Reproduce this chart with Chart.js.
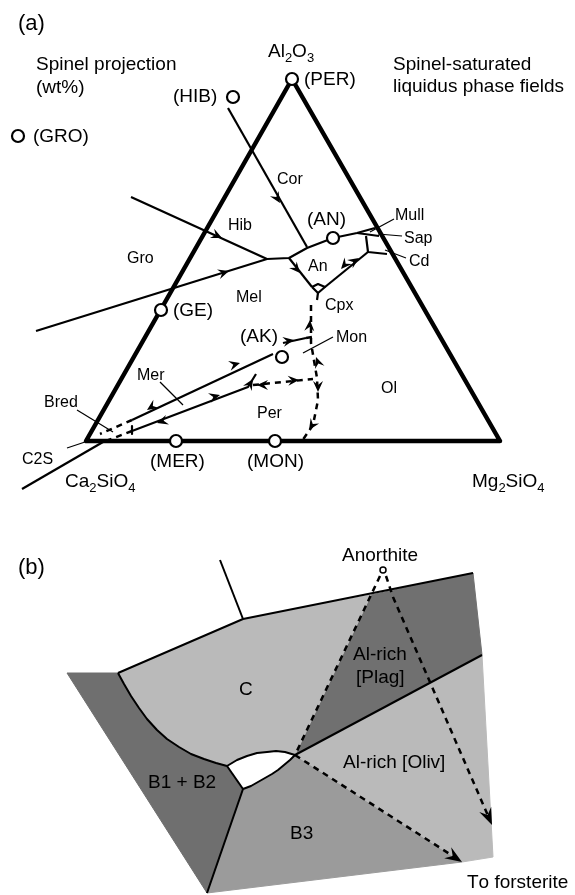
<!DOCTYPE html>
<html>
<head>
<meta charset="utf-8">
<script src="https://cdn.jsdelivr.net/npm/chart.js@4.4.0/dist/chart.umd.min.js"></script>
<style>
  html, body { margin: 0; padding: 0; background: #fff; }
  #wrap { width: 575px; height: 895px; position: relative; }
</style>
</head>
<body>
<div id="wrap"><canvas id="phaseChart"></canvas></div>
<script>
// ---- panel (a): spinel projection, values in figure units (x right, y down) ----
const triangleEdge = [[292,79],[86,441],[500,441],[292,79]];
const cotecticLines = [
  [[228,108],[307,247]],
  [[131,197],[267,259]],
  [[36,331],[267,259]],
  [[267,259],[289,258],[307,248],[333,238],[357,233],[375,228]],
  [[357,233],[379,236]],
  [[366,236],[368,252],[387,254]],
  [[289,258],[312,287]],
  [[312,287],[318,284],[325,287],[318,293],[312,287]],
  [[318,293],[317,300]],
  [[325,287],[368,252]],
  [[132,420],[273,354]],
  [[132,431],[248,387],[256,374]],
  [[132,426],[132,434]],
  [[283,343],[306,338]],
  [[22,489],[103,442]]
];
const dashedLines = [
  [[311,305],[311,343],[317,378],[318,400],[313,425],[302,441]],
  [[253,385],[313,379]],
  [[306,338],[312,337]],
  [[132,420],[100,434]],
  [[132,431],[106,441]]
];
const leaderLines = [
  [[370,232],[394,219]],
  [[378,234],[402,236]],
  [[385,250],[406,258]],
  [[303,353],[333,337]],
  [[160,382],[183,405]],
  [[77,410],[113,432]],
  [[67,448],[85,442]]
];
const compositions = [[292,79],[233,97],[18,136],[161,310],[333,238],[282,357],[176,441],[275,441]];
// arrow: position, then the point it heads toward
const arrowsA = [
  [280,203,307,247],
  [222,238,267,259],
  [229,271,267,259],
  [300,273,312,287],
  [341,269,325,287],
  [359,258,368,252],
  [240,363,273,354],
  [147,410,132,420],
  [220,395,248,387],
  [157,423,132,431],
  [253,379,256,374],
  [294,340,306,338],
  [310,320,311,305],
  [316,357,311,343],
  [318,392,318,400],
  [309,430,302,441],
  [257,385,253,385],
  [299,380,313,379]
];

// ---- panel (b): phase regions ----
const curveCB = [[118,673],[124,684],[131,696],[139,708],[147,719],[157,730],[167,739],[179,747],[191,754],[204,759],[216,763],[227,766]];
const lensTop = [[227,766],[237,760],[247,756],[257,753],[267,752],[276,751],[285,752],[295,755]];
const lensBottom = [[243,789],[251,786],[258,782],[265,778],[272,774],[278,770],[284,765],[290,760],[295,755]];
const regionB12 = [[67,673]].concat(curveCB, [[243,789],[207,893]]);
const regionC = [[118,673],[243,619],[371,595],[295,755]].concat(lensTop.slice().reverse().slice(1), curveCB.slice().reverse().slice(1));
const regionPlag = [[371,595],[473,573],[482,655],[295,755]];
const regionOliv = [[295,755],[482,655],[493,857],[462,862]];
const regionB3 = lensBottom.concat([[462,862],[207,893]]);
const regionLens = lensTop.concat(lensBottom.slice().reverse());
const boundaryLinesB = [
  [[220,560],[243,619]],
  [[118,673],[243,619],[473,573]],
  curveCB,
  lensTop,
  lensBottom,
  [[227,766],[243,789]],
  [[243,789],[207,893]],
  [[295,755],[482,655]]
];
const dashedLinesB = [
  [[380,576],[371,595],[295,755]],
  [[386,576],[393,597],[489,818]],
  [[295,755],[456,858]]
];
const anorthitePoint = [[383,570]];
// arrowhead tip, then the point it comes from
const arrowsB = [
  [492,825,393,597],
  [462,862,295,755]
];

// ---- labels: text, left x, baseline y, size ----
const labels = [
  ['(a)',18,30,22], ['Spinel projection',36,70,19], ['(wt%)',36,93,19],
  ['(GRO)',33,142,19], ['(HIB)',173,102,19], ['Al_2O_3',268,57,19],
  ['(PER)',304,85,19], ['Spinel-saturated',393,70,19], ['liquidus phase fields',393,92,19],
  ['Cor',277,184,16], ['Hib',228,230,16], ['(AN)',307,225,19],
  ['Mull',395,220,16], ['Sap',404,243,16], ['Cd',409,266,16],
  ['Gro',127,263,16], ['An',308,271,16], ['Mel',236,302,16],
  ['Cpx',325,310,16], ['(GE)',173,316,19], ['(AK)',240,342,19],
  ['Mon',336,342,16], ['Ol',381,393,16], ['Mer',137,380,16],
  ['Bred',44,407,16], ['Per',257,418,16], ['C2S',22,464,16],
  ['(MER)',150,467,19], ['(MON)',247,467,19],
  ['Ca_2SiO_4',65,487,19], ['Mg_2SiO_4',472,487,19],
  ['(b)',18,574,22], ['Anorthite',342,561,19], ['C',239,695,19],
  ['Al-rich',353,660,19], ['[Plag]',356,683,19], ['Al-rich [Oliv]',343,768,19],
  ['B1 + B2',148,788,19], ['B3',290,839,19], ['To forsterite',467,888,19]
];

const FONT = '"Liberation Sans", Arial, Helvetica, sans-serif';

function toXY(points) {
  return points.map(function (p) { return { x: p[0], y: p[1] }; });
}

function lineSet(points, width, dash) {
  return {
    data: toXY(points),
    showLine: true,
    borderColor: '#000',
    borderWidth: width,
    borderDash: dash || [],
    borderJoinStyle: 'round',
    pointRadius: 0,
    fill: false,
    tension: 0,
    order: 2
  };
}

function regionSet(points, color) {
  return {
    data: toXY(points.concat([points[0]])),
    showLine: true,
    borderColor: color,
    borderWidth: 1,
    backgroundColor: color,
    pointRadius: 0,
    fill: 'shape',
    tension: 0,
    order: 10
  };
}

const datasets = [];
datasets.push(regionSet(regionB12, '#6f6f6f'));
datasets.push(regionSet(regionC, '#bababa'));
datasets.push(regionSet(regionPlag, '#707070'));
datasets.push(regionSet(regionOliv, '#bababa'));
datasets.push(regionSet(regionB3, '#9b9b9b'));
datasets.push(regionSet(regionLens, '#ffffff'));

datasets.push(lineSet(triangleEdge, 4.5));
cotecticLines.forEach(function (l) { datasets.push(lineSet(l, 2.2)); });
dashedLines.forEach(function (l) { datasets.push(lineSet(l, 2.5, [6, 5])); });
leaderLines.forEach(function (l) { datasets.push(lineSet(l, 1.2)); });
boundaryLinesB.forEach(function (l) { datasets.push(lineSet(l, 2)); });
dashedLinesB.forEach(function (l) { datasets.push(lineSet(l, 2.5, [6, 5])); });

datasets.push({
  data: toXY(compositions),
  pointStyle: 'circle',
  pointRadius: 6,
  pointBorderWidth: 2.2,
  pointBorderColor: '#000',
  pointBackgroundColor: '#fff',
  showLine: false,
  order: 0
});
datasets.push({
  data: toXY(anorthitePoint),
  pointStyle: 'circle',
  pointRadius: 3,
  pointBorderWidth: 1.5,
  pointBorderColor: '#000',
  pointBackgroundColor: '#fff',
  showLine: false,
  order: 0
});

function arrowHead(ctx, x, y, angle, len, half, notch) {
  ctx.save();
  ctx.translate(x, y);
  ctx.rotate(angle);
  ctx.beginPath();
  ctx.moveTo(0, 0);
  ctx.lineTo(-len, -half);
  ctx.lineTo(-notch, 0);
  ctx.lineTo(-len, half);
  ctx.closePath();
  ctx.fill();
  ctx.restore();
}

function drawLabel(ctx, text, x, y, size) {
  // '_' marks the next character as a subscript
  let cx = x;
  for (let i = 0; i < text.length; i++) {
    let ch = text[i];
    if (ch === '_' && i + 1 < text.length) {
      ch = text[++i];
      ctx.font = Math.round(size * 0.68) + 'px ' + FONT;
      ctx.fillText(ch, cx, y + size * 0.28);
    } else {
      ctx.font = size + 'px ' + FONT;
      ctx.fillText(ch, cx, y);
    }
    cx += ctx.measureText(ch).width;
  }
}

const annotate = {
  id: 'annotate',
  afterDatasetsDraw: function (chart) {
    const ctx = chart.ctx;
    const sx = chart.scales.x;
    const sy = chart.scales.y;
    ctx.save();
    ctx.fillStyle = '#000';
    arrowsA.forEach(function (a) {
      const x0 = sx.getPixelForValue(a[0]), y0 = sy.getPixelForValue(a[1]);
      const x1 = sx.getPixelForValue(a[2]), y1 = sy.getPixelForValue(a[3]);
      arrowHead(ctx, x0, y0, Math.atan2(y1 - y0, x1 - x0), 11, 5, 7);
    });
    arrowsB.forEach(function (a) {
      const x0 = sx.getPixelForValue(a[0]), y0 = sy.getPixelForValue(a[1]);
      const x1 = sx.getPixelForValue(a[2]), y1 = sy.getPixelForValue(a[3]);
      arrowHead(ctx, x0, y0, Math.atan2(y0 - y1, x0 - x1), 17, 6.5, 11);
    });
    ctx.textBaseline = 'alphabetic';
    ctx.textAlign = 'left';
    labels.forEach(function (l) {
      drawLabel(ctx, l[0], sx.getPixelForValue(l[1]), sy.getPixelForValue(l[2]), l[3]);
    });
    ctx.restore();
  }
};

new Chart(document.getElementById('phaseChart'), {
  type: 'scatter',
  data: { datasets: datasets },
  options: {
    responsive: true,
    maintainAspectRatio: false,
    animation: false,
    events: [],
    layout: { padding: 0, autoPadding: false },
    plugins: {
      legend: { display: false },
      tooltip: { enabled: false }
    },
    scales: {
      x: { type: 'linear', min: 0, max: 575, display: false },
      y: { type: 'linear', min: 0, max: 895, reverse: true, display: false }
    }
  },
  plugins: [annotate]
});
</script>
</body>
</html>
